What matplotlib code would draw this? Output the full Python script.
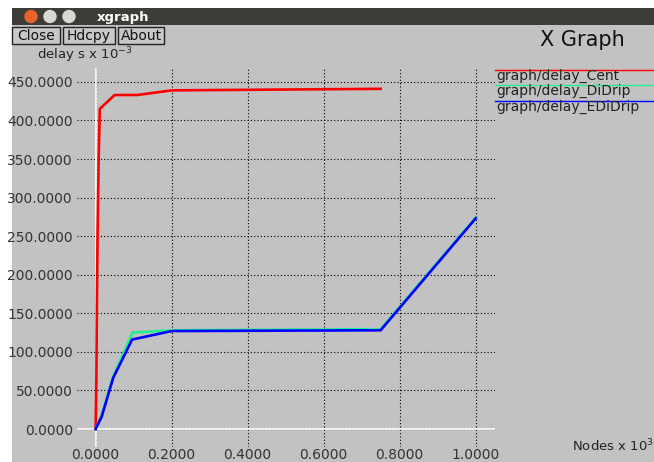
import matplotlib
matplotlib.use("Agg")
import matplotlib.pyplot as plt
from matplotlib.patches import Rectangle, Circle

# data
cent_x = [0.0, 0.002, 0.003, 0.005, 0.008, 0.011, 0.05, 0.11, 0.2, 0.47, 0.75]
cent_y = [0, 65, 137, 250, 350, 415, 433, 433, 439, 440, 441]

didrip_x = [0.0, 0.016, 0.046, 0.097, 0.2, 0.75, 1.0]
didrip_y = [0, 18, 68, 125, 128, 129.5, 274]

edidrip_x = [0.0, 0.016, 0.046, 0.096, 0.2, 0.75, 1.0]
edidrip_y = [0, 16, 66, 116, 127, 128, 273]

series_names = ["graph/delay_Cent", "graph/delay_DiDrip", "graph/delay_EDiDrip"]
series_colors = ["#ff0000", "#20f090", "#0000ff"]

xticks = [0.0, 0.2, 0.4, 0.6, 0.8, 1.0]
yticks = [0, 50, 100, 150, 200, 250, 300, 350, 400, 450]

W, H = 654, 462
bg_gray = "#c2c2c2"

fig = plt.figure(figsize=(W / 100, H / 100), dpi=100, facecolor="white")

# window frame, drawn in pixel coords
bg = fig.add_axes([0, 0, 1, 1], zorder=0)
bg.set_xlim(0, W)
bg.set_ylim(H, 0)
bg.axis("off")
bg.add_patch(Rectangle((12, 25), W - 12, H - 25, color=bg_gray, lw=0))
bg.add_patch(Rectangle((12, 8), W - 12, 17, color="#3d3c38", lw=0))
bg.add_patch(Circle((31, 16.5), 6, color="#e8632c"))
bg.add_patch(Circle((50, 16.5), 6, color="#d8d8d4"))
bg.add_patch(Circle((69, 16.5), 6, color="#d8d8d4"))
bg.text(97, 17, "xgraph", color="white", fontsize=9.5, fontweight="bold",
        va="center", ha="left")
for label, x0, x1 in [("Close", 12, 60), ("Hdcpy", 63, 115), ("About", 118, 164)]:
    bg.add_patch(Rectangle((x0, 27), x1 - x0, 17, facecolor="#c8c8c8",
                           edgecolor="#222222", lw=1))
    bg.text((x0 + x1) / 2, 36, label, fontsize=10, color="#111111",
            ha="center", va="center")

bg.text(37, 55, "delay s x 10$^{-3}$", fontsize=9.5, color="#222222",
        ha="left", va="center")
bg.text(582, 40, "X Graph", fontsize=15, color="#111111", ha="center", va="center")
bg.text(572, 446, "Nodes x 10$^{3}$", fontsize=9.5, color="#222222",
        ha="left", va="center")

# legend in the right margin
leg_y = [69.5, 85, 100.5]
for name, col, ly in zip(series_names, series_colors, leg_y):
    bg.plot([495, W], [ly, ly], color=col, lw=1)
    bg.text(496, ly + 6, name, fontsize=10, color="#222222", ha="left", va="center")

# plot area
ax = fig.add_axes([77 / W, 1 - 447 / H, (495 - 77) / W, (447 - 68) / H], zorder=1)
ax.set_facecolor("none")
ax.set_xlim(-0.049, 1.051)
ax.set_ylim(-23.3, 468)
for s in ax.spines.values():
    s.set_visible(False)

ax.set_xticks(xticks)
ax.set_xticklabels(["%.4f" % v for v in xticks])
ax.set_yticks(yticks)
ax.set_yticklabels(["%.4f" % v for v in yticks])
ax.tick_params(length=0, labelsize=10, labelcolor="#333333")
ax.tick_params(axis="y", pad=3)
ax.tick_params(axis="x", pad=0.5)
ax.grid(True, color="black", linestyle=(0, (1, 2)), linewidth=0.8)
ax.axhline(0, color="white", lw=1.2, zorder=2)
ax.axvline(0, color="white", lw=1.2, zorder=2)

ax.plot(cent_x, cent_y, color=series_colors[0], lw=1.9, zorder=3)
ax.plot(didrip_x, didrip_y, color=series_colors[1], lw=1.9, zorder=3)
ax.plot(edidrip_x, edidrip_y, color=series_colors[2], lw=1.9, zorder=4)

fig.savefig("out.png", dpi=100, facecolor="white")
